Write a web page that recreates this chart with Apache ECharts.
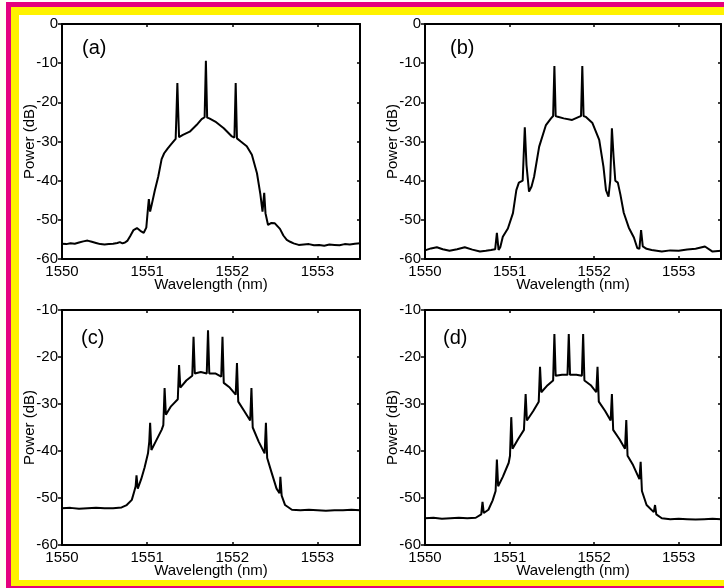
<!DOCTYPE html>
<html>
<head>
<meta charset="utf-8">
<script src="https://cdn.jsdelivr.net/npm/echarts/dist/echarts.min.js"></script>
<style>
html, body { margin: 0; padding: 0; background: #fff; }
#chart { width: 724px; height: 588px; }
</style>
</head>
<body>
<div id="chart"></div>
<script>
// Optical spectra, [wavelength (nm), power (dB)]
const spectrumA = [
  [1550.00,-56.1],[1550.05,-56.2],[1550.10,-56.0],[1550.15,-56.1],[1550.20,-55.8],[1550.25,-55.5],
  [1550.30,-55.3],[1550.35,-55.6],[1550.40,-55.9],[1550.45,-56.2],[1550.50,-56.3],[1550.55,-56.2],
  [1550.60,-56.1],[1550.65,-55.9],[1550.68,-55.7],[1550.71,-56.0],[1550.74,-55.8],[1550.77,-55.3],
  [1550.80,-54.2],[1550.84,-52.6],[1550.88,-52.1],[1550.92,-52.8],[1550.96,-53.3],[1550.99,-52.0],
  [1551.01,-47.0],[1551.02,-44.7],[1551.035,-47.9],[1551.05,-46.5],[1551.09,-42.5],[1551.13,-39.0],
  [1551.17,-34.5],[1551.20,-33.0],[1551.24,-31.8],[1551.29,-30.5],[1551.335,-29.3],[1551.345,-22.5],
  [1551.355,-15.1],[1551.365,-22.5],[1551.375,-28.9],[1551.42,-28.3],[1551.50,-27.5],[1551.58,-25.8],
  [1551.64,-24.3],[1551.675,-23.8],[1551.69,-9.4],[1551.705,-23.9],[1551.73,-24.1],[1551.80,-24.9],
  [1551.90,-26.6],[1551.99,-28.6],[1552.025,-29.0],[1552.04,-15.1],[1552.055,-29.2],[1552.10,-30.0],
  [1552.17,-31.2],[1552.23,-33.4],[1552.29,-38.1],[1552.33,-43.5],[1552.355,-47.9],[1552.375,-43.1],
  [1552.39,-48.3],[1552.42,-51.3],[1552.46,-50.8],[1552.50,-50.9],[1552.56,-52.3],[1552.60,-54.0],
  [1552.64,-55.1],[1552.68,-55.6],[1552.72,-56.0],[1552.78,-56.4],[1552.84,-56.3],[1552.90,-56.2],
  [1552.96,-56.5],[1553.02,-56.4],[1553.08,-56.6],[1553.14,-56.3],[1553.20,-56.4],[1553.26,-56.5],
  [1553.32,-56.2],[1553.38,-56.3],[1553.44,-56.1],[1553.50,-56.0]
];

const spectrumB = [
  [1550.00,-57.8],[1550.07,-57.3],[1550.14,-57.0],[1550.21,-57.5],[1550.29,-57.9],[1550.38,-57.5],
  [1550.47,-57.0],[1550.56,-57.6],[1550.65,-58.1],[1550.72,-57.9],[1550.78,-57.7],[1550.83,-57.5],
  [1550.85,-53.3],[1550.87,-57.7],[1550.89,-57.0],[1550.92,-54.3],[1550.98,-52.2],[1551.04,-48.3],
  [1551.08,-42.4],[1551.11,-40.5],[1551.155,-40.0],[1551.18,-26.4],[1551.20,-36.0],[1551.23,-42.8],
  [1551.26,-41.5],[1551.29,-39.0],[1551.35,-31.3],[1551.43,-25.8],[1551.49,-24.1],[1551.515,-23.5],
  [1551.53,-10.7],[1551.545,-23.5],[1551.57,-23.7],[1551.64,-24.1],[1551.74,-24.5],[1551.82,-23.7],
  [1551.845,-23.5],[1551.86,-10.7],[1551.875,-23.5],[1551.90,-23.7],[1551.98,-25.3],[1552.06,-29.6],
  [1552.11,-36.4],[1552.14,-42.4],[1552.17,-44.1],[1552.19,-40.0],[1552.21,-26.6],[1552.23,-34.0],
  [1552.25,-40.0],[1552.28,-40.5],[1552.31,-43.5],[1552.35,-48.2],[1552.41,-52.0],[1552.47,-54.5],
  [1552.51,-57.2],[1552.535,-57.4],[1552.555,-52.6],[1552.575,-56.8],[1552.62,-57.4],[1552.68,-57.7],
  [1552.80,-58.1],[1552.90,-57.8],[1553.00,-57.9],[1553.10,-57.6],[1553.20,-57.4],[1553.31,-56.8],
  [1553.40,-58.1],[1553.50,-57.9]
];

const spectrumC = [
  [1550.00,-52.2],[1550.10,-52.1],[1550.20,-52.3],[1550.30,-52.2],[1550.40,-52.1],[1550.50,-52.2],
  [1550.60,-52.2],[1550.70,-52.0],[1550.76,-51.5],[1550.82,-50.4],[1550.85,-48.5],[1550.865,-47.5],
  [1550.875,-45.2],[1550.89,-48.0],[1550.93,-46.0],[1550.97,-43.5],[1551.01,-40.5],[1551.025,-38.0],
  [1551.035,-34.0],[1551.05,-39.8],[1551.10,-38.0],[1551.17,-35.5],[1551.19,-34.5],[1551.205,-26.6],
  [1551.22,-32.3],[1551.28,-30.5],[1551.36,-29.0],[1551.375,-21.7],[1551.39,-26.5],[1551.46,-25.0],
  [1551.53,-24.0],[1551.545,-15.7],[1551.56,-23.5],[1551.63,-23.2],[1551.70,-23.5],[1551.715,-14.3],
  [1551.73,-23.5],[1551.80,-23.5],[1551.87,-24.2],[1551.885,-15.7],[1551.90,-25.5],[1551.97,-26.5],
  [1552.04,-28.0],[1552.055,-21.3],[1552.07,-29.5],[1552.14,-31.5],[1552.21,-33.5],[1552.225,-26.6],
  [1552.24,-35.0],[1552.31,-38.0],[1552.38,-40.5],[1552.395,-34.0],[1552.41,-41.5],[1552.46,-44.5],
  [1552.52,-48.0],[1552.555,-49.0],[1552.565,-45.5],[1552.58,-49.5],[1552.62,-51.5],[1552.70,-52.5],
  [1552.80,-52.6],[1552.90,-52.5],[1553.00,-52.6],[1553.10,-52.7],[1553.20,-52.6],[1553.30,-52.6],
  [1553.40,-52.5],[1553.50,-52.6]
];

const spectrumD = [
  [1550.00,-54.3],[1550.10,-54.2],[1550.20,-54.4],[1550.30,-54.3],[1550.40,-54.2],[1550.50,-54.3],
  [1550.60,-54.2],[1550.665,-53.5],[1550.68,-50.8],[1550.695,-53.2],[1550.75,-52.5],[1550.80,-50.5],
  [1550.835,-48.5],[1550.85,-41.8],[1550.865,-47.5],[1550.92,-45.5],[1550.99,-42.5],[1551.005,-41.0],
  [1551.02,-32.8],[1551.035,-39.5],[1551.10,-37.5],[1551.17,-35.5],[1551.19,-27.9],[1551.205,-33.5],
  [1551.28,-31.5],[1551.345,-29.5],[1551.36,-22.1],[1551.375,-27.5],[1551.45,-26.0],[1551.515,-25.0],
  [1551.53,-15.1],[1551.545,-24.0],[1551.62,-23.8],[1551.685,-23.8],[1551.70,-15.1],[1551.715,-23.8],
  [1551.79,-23.8],[1551.855,-24.0],[1551.87,-15.1],[1551.885,-25.0],[1551.96,-26.0],[1552.025,-27.5],
  [1552.04,-22.1],[1552.055,-29.5],[1552.13,-31.5],[1552.195,-33.5],[1552.21,-27.9],[1552.225,-35.5],
  [1552.30,-37.5],[1552.365,-39.5],[1552.38,-33.4],[1552.395,-41.0],[1552.46,-43.0],[1552.535,-46.0],
  [1552.55,-42.3],[1552.565,-48.5],[1552.62,-51.5],[1552.705,-53.0],[1552.72,-51.5],[1552.735,-53.5],
  [1552.80,-54.3],[1552.90,-54.5],[1553.00,-54.4],[1553.10,-54.5],[1553.20,-54.6],[1553.30,-54.5],
  [1553.40,-54.4],[1553.50,-54.5]
];

const panelLabels = ['(a)', '(b)', '(c)', '(d)'];
const powerRanges = [[-60, 0], [-60, 0], [-60, -10], [-60, -10]];
const wavelengthRange = [1550, 1553.5];

const FONT = '"Liberation Sans", Arial, Helvetica, sans-serif';
const panels = [
  { data: spectrumA, left: 62,  top: 24,  labelX: 82,  labelY: 38 },
  { data: spectrumB, left: 425, top: 24,  labelX: 450, labelY: 38 },
  { data: spectrumC, left: 62,  top: 310, labelX: 81,  labelY: 328 },
  { data: spectrumD, left: 425, top: 310, labelX: 443, labelY: 328 }
];

const grids = [], xAxes = [], yAxes = [], series = [], graphics = [];

panels.forEach((p, i) => {
  grids.push({ left: p.left, top: p.top, width: 298, height: 235, show: false });
  const frame = { show: true, onZero: false, lineStyle: { color: '#000', width: 2 } };
  const innerTick = { show: true, inside: true, length: 3, lineStyle: { color: '#000', width: 1.5 } };
  const tickText = { color: '#000', fontFamily: FONT, fontSize: 15 };

  xAxes.push({
    type: 'value', gridIndex: i, position: 'bottom',
    min: wavelengthRange[0], max: wavelengthRange[1], interval: 1,
    axisLine: frame, axisTick: innerTick, splitLine: { show: false },
    axisLabel: Object.assign({ margin: 5, formatter: v => Number.isInteger(v) ? String(v) : '' }, tickText),
    name: 'Wavelength (nm)', nameLocation: 'middle', nameGap: 18, nameMoveOverlap: false,
    nameTextStyle: { color: '#000', fontFamily: FONT, fontSize: 15 }
  });
  xAxes.push({
    type: 'value', gridIndex: i, position: 'top',
    min: wavelengthRange[0], max: wavelengthRange[1], interval: 1,
    axisLine: frame, axisTick: innerTick, splitLine: { show: false }, axisLabel: { show: false }
  });
  yAxes.push({
    type: 'value', gridIndex: i, position: 'left',
    min: powerRanges[i][0], max: powerRanges[i][1], interval: 10,
    axisLine: frame, splitLine: { show: false },
    axisTick: { show: true, inside: false, length: 4, lineStyle: { color: '#000', width: 1.5 } },
    axisLabel: Object.assign({ margin: 4 }, tickText),
    name: 'Power (dB)', nameLocation: 'middle', nameGap: 25, nameRotate: 90, nameMoveOverlap: false,
    nameTextStyle: { color: '#000', fontFamily: FONT, fontSize: 15 }
  });
  yAxes.push({
    type: 'value', gridIndex: i, position: 'right',
    min: powerRanges[i][0], max: powerRanges[i][1], interval: 10,
    axisLine: frame, axisTick: innerTick, splitLine: { show: false }, axisLabel: { show: false }
  });
  series.push({
    type: 'line', xAxisIndex: 2 * i, yAxisIndex: 2 * i,
    data: p.data, showSymbol: false, symbol: 'none', clip: true,
    lineStyle: { color: '#000', width: 2 }
  });
  graphics.push({
    type: 'text', left: p.labelX, top: p.labelY, z: 10,
    style: { text: panelLabels[i], font: '20px ' + FONT, fill: '#000' }
  });
});

// Decorative frame bands around the figure
const MAGENTA = '#e5007e', YELLOW = '#fff200';
graphics.push(
  { type: 'rect', shape: { x: 0, y: 0, width: 6, height: 588 }, style: { fill: '#fffef4' }, z: 1 },
  { type: 'rect', shape: { x: 6, y: 2, width: 718, height: 5 }, style: { fill: MAGENTA }, z: 1 },
  { type: 'rect', shape: { x: 6, y: 2, width: 5, height: 586 }, style: { fill: MAGENTA }, z: 1 },
  { type: 'rect', shape: { x: 6, y: 586, width: 718, height: 2 }, style: { fill: MAGENTA }, z: 1 },
  { type: 'rect', shape: { x: 11, y: 7, width: 713, height: 8 }, style: { fill: YELLOW }, z: 1 },
  { type: 'rect', shape: { x: 11, y: 7, width: 8, height: 579 }, style: { fill: YELLOW }, z: 1 },
  { type: 'rect', shape: { x: 11, y: 580, width: 713, height: 6 }, style: { fill: YELLOW }, z: 1 }
);

const chart = echarts.init(document.getElementById('chart'), null, { renderer: 'canvas' });
chart.setOption({
  animation: false,
  backgroundColor: '#fff',
  grid: grids,
  xAxis: xAxes,
  yAxis: yAxes,
  series: series,
  graphic: graphics
});
</script>
</body>
</html>
